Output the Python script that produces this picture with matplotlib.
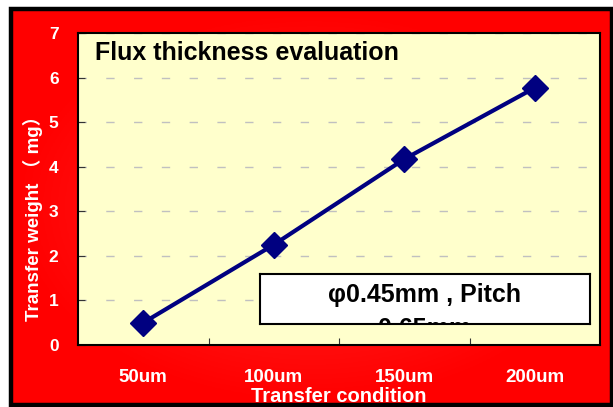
import matplotlib.pyplot as plt
import numpy as np
from matplotlib.patches import Rectangle

# chart data
categories = ["50um", "100um", "150um", "200um"]
weights = [0.5, 2.25, 4.17, 5.77]
y_ticks = [0, 1, 2, 3, 4, 5, 6, 7]

title_text = "Flux thickness evaluation"
note_lines = ["φ0.45mm , Pitch", "0.65mm"]
x_label = "Transfer condition"
y_label = "Transfer weight （ mg）"

W, H = 613, 407
fig = plt.figure(figsize=(W / 100, H / 100), dpi=100)
fig.patch.set_facecolor("white")

# red background with a soft lighter centre
bg = fig.add_axes([0, 0, 1, 1], zorder=-10)
yy, xx = np.mgrid[-1:1:200j, -1:1:300j]
glow = np.clip(1 - np.sqrt(xx ** 2 + yy ** 2), 0, 1)
img = np.zeros((200, 300, 3))
img[..., 0] = 1.0
img[..., 1] = 0.16 * glow
img[..., 2] = 0.16 * glow
bg.imshow(img, extent=[13 / W, 611 / W, 3 / H, 396 / H], aspect="auto")
bg.set_xlim(0, 1)
bg.set_ylim(0, 1)
bg.add_patch(Rectangle((11 / W, 2.5 / H), 601 / W, 396 / H, fill=False,
                       edgecolor="black", lw=3.2))
bg.axis("off")

fonts = ["Liberation Sans", "Noto Sans CJK SC"]
bold_white = dict(color="white", fontweight="bold", family=fonts)

ax = fig.add_axes([78 / W, 62 / H, 522 / W, 312 / H])
ax.set_facecolor("#FFFFCC")
x = np.arange(len(categories))
ax.plot(x, weights, color="#000080", lw=3.0, marker="D", ms=13,
        mec="#000080", mfc="#000080", zorder=3, clip_on=False)

ax.set_xlim(-0.5, len(categories) - 0.5)
ax.set_ylim(0, 7)
ax.set_yticks(y_ticks)
ax.set_yticklabels([str(v) for v in y_ticks], fontsize=12.5, **bold_white)
ax.set_xticks(np.arange(len(categories) - 1) + 0.5)
ax.set_xticks(x, minor=True)
ax.set_xticklabels([])
ax.set_xticklabels(categories, minor=True, fontsize=13.5, **bold_white)
ax.tick_params(axis="x", which="major", direction="in", length=5, color="#333333")
ax.tick_params(axis="x", which="minor", length=0, pad=17)
ax.tick_params(axis="y", direction="in", length=5, pad=14, color="#333333")
ax.yaxis.grid(True, color="#C0C0C0", lw=1.0, ls=(0, (6, 14)))
ax.set_axisbelow(True)
for sp in ax.spines.values():
    sp.set_color("black")
    sp.set_linewidth(1.5)

ax.set_xlabel(x_label, fontsize=14.5, **bold_white)
ax.xaxis.set_label_coords(0.5, -0.135)
ax.set_ylabel(y_label, fontsize=13.5, **bold_white)
ax.yaxis.set_label_coords(-0.068, 0.42)

ax.text(0.033, 0.975, title_text, transform=ax.transAxes, ha="left", va="top",
        fontsize=18, fontweight="bold", color="black", family="Liberation Sans")

# white note box, second line clipped by the frame
box = fig.add_axes([260 / W, 83 / H, 330 / W, 50 / H])
box.set_facecolor("white")
box.set_xticks([])
box.set_yticks([])
for sp in box.spines.values():
    sp.set_color("black")
    sp.set_linewidth(1.5)
box.text(0.5, 0.58, note_lines[0], transform=box.transAxes, ha="center", va="center",
         fontsize=18, fontweight="bold", family=["Liberation Sans", "DejaVu Sans"], clip_on=True)
box.text(0.5, -0.1, note_lines[1], transform=box.transAxes, ha="center", va="center",
         fontsize=18, fontweight="bold", family=["Liberation Sans", "DejaVu Sans"], clip_on=True)

fig.savefig("out.png", dpi=100)
